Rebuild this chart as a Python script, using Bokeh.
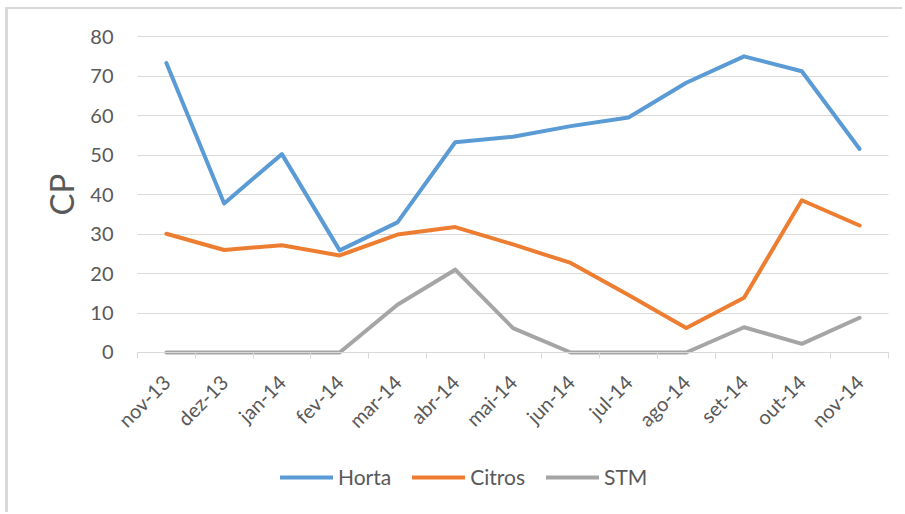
from bokeh.plotting import figure
from bokeh.models import FixedTicker, Legend, LegendItem, ColumnDataSource
from bokeh.embed import file_html
from bokeh.resources import INLINE

months = ["nov-13", "dez-13", "jan-14", "fev-14", "mar-14", "abr-14", "mai-14",
          "jun-14", "jul-14", "ago-14", "set-14", "out-14", "nov-14"]
horta = [73.4, 37.8, 50.3, 25.9, 33.0, 53.3, 54.7, 57.4, 59.6, 68.4, 75.1, 71.3, 51.6]
citros = [30.1, 26.0, 27.2, 24.6, 29.9, 31.8, 27.4, 22.7, 14.6, 6.2, 13.9, 38.6, 32.2]
stm = [0, 0, 0, 0, 12.1, 21.0, 6.2, 0, 0, 0, 6.4, 2.2, 8.8]
y_ticks = [0, 10, 20, 30, 40, 50, 60, 70, 80]

idx = list(range(len(months)))
src = ColumnDataSource(dict(x=idx, horta=horta, citros=citros, stm=stm))

TXT = "#595959"
FONT = "Lato"
GRID = "#d9d9d9"
N = len(months)

# the frame fills the whole figure; axes are pinned inside it
p = figure(width=897, height=505, output_backend="svg", toolbar_location=None,
           x_range=(-2.733, N - 0.5 + 0.295), y_range=(-41.08, 86.97),
           min_border=0)
p.outline_line_color = None
p.background_fill_color = "white"
p.border_fill_color = "white"
p.styles = {"margin-left": "5px", "margin-top": "7px",
            "border-left": "3px solid #d9d9d9", "border-top": "2px solid #d9d9d9"}

# grid
p.xgrid.grid_line_color = None
p.ygrid.grid_line_color = GRID
p.ygrid.grid_line_width = 1
p.ygrid.ticker = FixedTicker(ticks=y_ticks)
p.ygrid.cross_bounds = (-0.5, N - 0.5)

# x axis (drawn at y = 0)
xa = p.xaxis[0]
xa.fixed_location = 0
xa.bounds = (-0.5, N - 0.5)
xa.ticker = FixedTicker(ticks=idx, minor_ticks=[i - 0.5 for i in range(N + 1)])
xa.major_label_overrides = {i: m for i, m in enumerate(months)}
xa.major_label_orientation = 0.785398
xa.major_tick_line_color = None
xa.minor_tick_line_color = GRID
xa.minor_tick_out = 6
xa.minor_tick_in = 0
xa.axis_line_color = GRID
xa.major_label_text_font = FONT
xa.major_label_text_font_size = "20px"
xa.major_label_text_color = TXT
xa.major_label_standoff = 20

# y axis (drawn at the left edge of the plotting area)
ya = p.yaxis[0]
ya.fixed_location = -0.5
ya.ticker = FixedTicker(ticks=y_ticks)
ya.bounds = (0, 80)
ya.minor_tick_line_color = None
ya.major_tick_line_color = None
ya.axis_line_color = None
ya.major_label_text_font = FONT
ya.major_label_text_font_size = "20px"
ya.major_label_text_color = TXT
ya.major_label_standoff = 18
ya.axis_label = "CP"
ya.axis_label_text_font = FONT
ya.axis_label_text_font_size = "33px"
ya.axis_label_text_font_style = "normal"
ya.axis_label_text_color = TXT
ya.axis_label_standoff = 6

r1 = p.line("x", "horta", source=src, line_color="#5b9bd5", line_width=4, line_join="round", line_cap="round")
r2 = p.line("x", "citros", source=src, line_color="#ed7d31", line_width=4, line_join="round", line_cap="round")
r3 = p.line("x", "stm", source=src, line_color="#a5a5a5", line_width=4, line_join="round", line_cap="round")

legend = Legend(items=[LegendItem(label="Horta", renderers=[r1]),
                       LegendItem(label="Citros", renderers=[r2]),
                       LegendItem(label="STM", renderers=[r3])],
                orientation="horizontal", location=(272, 25))
legend.border_line_color = None
legend.background_fill_alpha = 0
legend.label_text_font = FONT
legend.label_text_font_size = "21px"
legend.label_text_color = TXT
legend.glyph_width = 53
legend.glyph_height = 22
legend.spacing = 21
legend.label_standoff = 5
legend.padding = 0
legend.margin = 0
p.add_layout(legend, "center")

open("out.html", "w").write(file_html(p, INLINE))
